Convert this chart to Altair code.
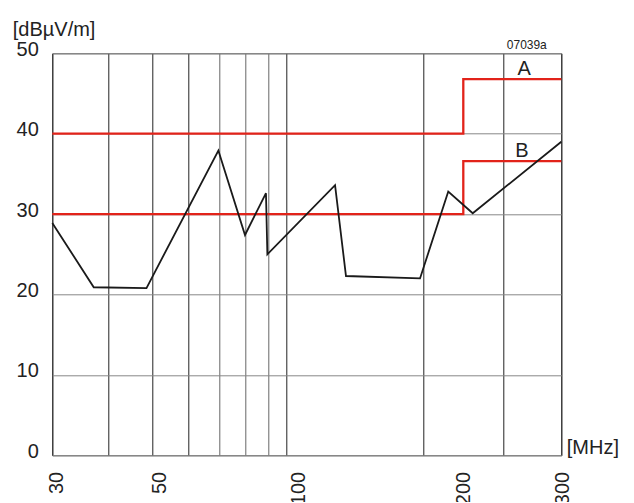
import altair as alt
import pandas as pd

FONT = "Liberation Sans"

# ---- data ----
freq_grid = [30, 40, 50, 60, 70, 80, 90, 100, 200, 250, 300]   # vertical grid lines [MHz]
freq_labels = [30, 50, 100, 200, 300]
level_ticks = [0, 10, 20, 30, 40, 50]

curve_freq = [30, 37.4, 48.6, 69.7, 80, 89.0, 89.6, 135.4, 143.4, 197.6, 215.6, 230.9, 300]
curve_level = [28.9, 20.9, 20.8, 37.9, 27.4, 32.6, 25.0, 33.6, 22.3, 22.0, 32.8, 30.1, 39.0]

limit_names = ["A", "B"]
limit_step_freq = 225
limit_low = [40, 30]
limit_high = [46.8, 36.6]
limit_label_freq = [268, 266]
limit_label_level = [48.1, 37.9]

code_text = "07039a"

# ---- tables ----
curve_df = pd.DataFrame({"freq": curve_freq, "level": curve_level, "idx": range(len(curve_freq))})

rows = []
for name, lo, hi in zip(limit_names, limit_low, limit_high):
    pts = [(freq_grid[0], lo), (limit_step_freq, lo), (limit_step_freq, hi), (freq_grid[-1], hi)]
    for i, (f, l) in enumerate(pts):
        rows.append({"limit": name, "freq": f, "level": l, "idx": i})
limit_df = pd.DataFrame(rows)

label_df = pd.DataFrame({"freq": limit_label_freq, "level": limit_label_level, "name": limit_names})
code_df = pd.DataFrame({"freq": [freq_grid[-1]], "level": [level_ticks[-1]], "text": [code_text]})

# ---- scales / axes ----
x_scale = alt.Scale(
    type="linear",
    domain=freq_grid,
    range=[0, 56, 100.4, 136, 167, 192.7, 216, 234.4, 371, 451, 509],
    zero=False,
    nice=False,
)
y_scale = alt.Scale(domain=[0, 50], nice=False)

label_offsets = {30: 4, 50: 7, 100: 12, 200: 40, 300: 1}
label_list = ",".join(str(v) for v in freq_labels)

x_axis = alt.Axis(
    values=freq_grid,
    labelExpr=f"indexof([{label_list}], datum.value) >= 0 ? format(datum.value, 'd') : ''",
    labelAngle=270,
    labelFont=FONT,
    labelFontSize=20,
    labelColor="#222",
    labelPadding=16,
    labelOffset={
        "condition": [{"test": f"datum.value == {v}", "value": o} for v, o in label_offsets.items()],
        "value": 0,
    },
    labelOverlap=False,
    labelBound=False,
    labelFlush=False,
    ticks=False,
    tickSize=0,
    domain=False,
    grid=True,
    gridColor={
        "condition": {"test": "datum.value >= 70 && datum.value <= 90", "value": "#666"},
        "value": "#222",
    },
    gridWidth=1,
    title="[MHz]",
    titleAngle=0,
    titleAlign="left",
    titleBaseline="alphabetic",
    titleX=514,
    titleY=-1.5,
    titleFont=FONT,
    titleFontSize=20,
    titleFontWeight="normal",
    titleColor="#222",
)

y_axis = alt.Axis(
    values=level_ticks,
    labelFont=FONT,
    labelFontSize=20,
    labelColor="#222",
    labelPadding=14,
    labelOffset=-4,
    labelFlush=False,
    labelOverlap=False,
    ticks=False,
    tickSize=0,
    domain=False,
    grid=True,
    gridColor="#888",
    gridWidth=1,
    title="[dBµV/m]",
    titleAngle=0,
    titleAlign="left",
    titleBaseline="alphabetic",
    titleX=-40,
    titleY=-18,
    titleFont=FONT,
    titleFontSize=20,
    titleFontWeight="normal",
    titleColor="#222",
)

X = alt.X("freq:Q", scale=x_scale, axis=x_axis)
Y = alt.Y("level:Q", scale=y_scale, axis=y_axis)

limits = alt.Chart(limit_df).mark_line(
    color="#e2231a", strokeWidth=2.3, strokeJoin="miter", strokeCap="butt"
).encode(
    x=X, y=Y, detail="limit:N", order="idx:Q"
)

curve = alt.Chart(curve_df).mark_line(
    color="#1a1a1a", strokeWidth=1.8, strokeJoin="miter"
).encode(
    x=alt.X("freq:Q", scale=x_scale),
    y=alt.Y("level:Q", scale=y_scale),
    order="idx:Q",
)

labels = alt.Chart(label_df).mark_text(
    font=FONT, fontSize=20, color="#222", align="center", baseline="middle"
).encode(
    x=alt.X("freq:Q", scale=x_scale),
    y=alt.Y("level:Q", scale=y_scale),
    text="name:N",
)

code = alt.Chart(code_df).mark_text(
    font=FONT, fontSize=12, color="#222", align="right", baseline="alphabetic", dx=-14.5, dy=-4
).encode(
    x=alt.X("freq:Q", scale=x_scale),
    y=alt.Y("level:Q", scale=y_scale),
    text="text:N",
)

chart = (
    alt.layer(limits, curve, labels, code)
    .properties(
        width=509,
        height=402,
        autosize=alt.AutoSizeParams(type="none"),
        padding={"left": 44.3, "top": 45.3, "right": 62, "bottom": 47},
        background="white",
    )
    .configure_view(stroke="#555", strokeWidth=1)
)

chart.save("out.html", embed_options={"renderer": "svg", "actions": False})
